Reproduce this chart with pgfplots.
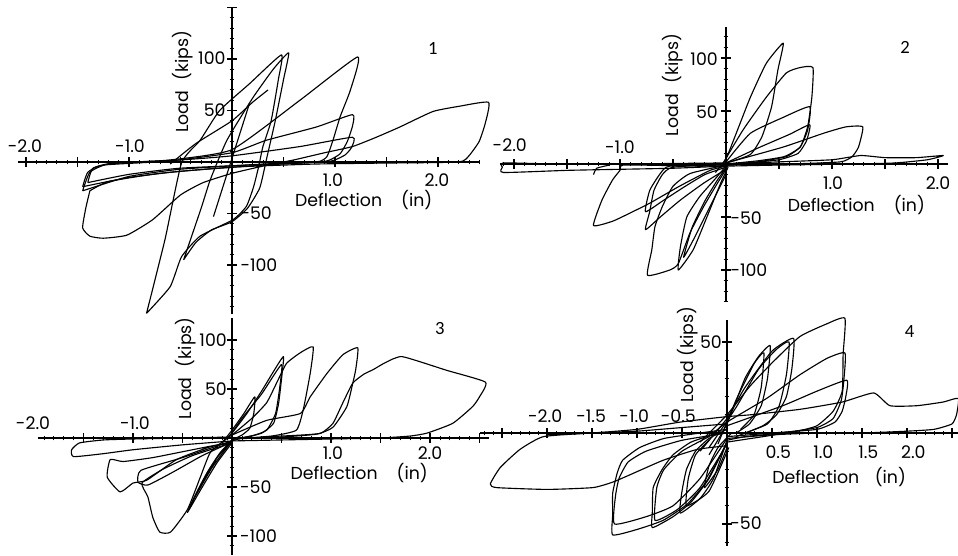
\documentclass[border=0pt]{standalone}
\usepackage{pgfplots}
\pgfplotsset{compat=1.18}
\usepackage{fontspec}
\setmainfont{Poppins}
\newfontfamily\numfont{Carlito}
\pgfplotsset{
  panel/.style={anchor=origin, axis lines=middle, axis line style={-, line width=1.1pt},
    clip=false, xticklabels={}, yticklabels={}, xtick distance=0.5,
    minor x tick num=4, minor y tick num=4, tick align=center,
    major tick length=7pt, minor tick length=3.5pt,
    tick style={black, line width=0.8pt}, minor tick style={black, line width=0.6pt}},
  hyst/.style={black, line width=0.85pt, line join=round, mark=none, smooth, tension=0.3},
}
\tikzset{lbl/.style={font=\fontsize{13}{15}\selectfont, inner sep=0pt},
  pnum/.style={font=\numfont\fontsize{14}{16}\selectfont, inner sep=0pt}}
\begin{document}
\begin{tikzpicture}
\useasboundingbox (0,0) rectangle (718.5pt,-417pt);
% ---------------- Panel 1 ----------------
\begin{axis}[panel, at={(174pt,-121.5pt)}, x=77.25pt, y=0.7725pt,
  xmin=-2.08, xmax=2.41, ymin=-148, ymax=150, ytick distance=50]
\addplot[hyst] coordinates {(-1.38,-28) (-1.42,-45) (-1.45,-64) (-1.38,-72) (-1.25,-74) (-1.02,-71) (-0.77,-56) (-0.5,-32) (-0.28,-20) (0,-11) (0.3,-4) (0.6,2) (0.9,9) (1.17,15) (1.4,24) (1.63,34) (1.95,49) (2.2,54) (2.49,58) (2.46,38) (2.4,20) (2.3,6) (2.2,0) (1.5,-1) (0.8,-2) (0,-5) (-0.7,-11) (-1.2,-19) (-1.38,-28)};
\addplot[hyst] coordinates {(-1.45,-28) (-1.38,-10) (-1.2,-2) (-0.6,2) (0,12) (0.66,60) (1.22,102) (1.15,70) (1.05,44) (0.98,21) (0.92,5) (0.82,0) (0.3,-2) (-0.5,-7) (-1.0,-14) (-1.45,-28)};
\addplot[hyst] coordinates {(-1.45,-24) (-1.4,-10) (-1.25,-3) (-0.6,1) (0,9) (0.33,21) (0.82,34) (1.17,46) (1.17,35) (1.12,20) (1.05,8) (0.95,2) (0.85,0) (0.3,-3) (-0.5,-9) (-1.0,-15) (-1.45,-24)};
\addplot[hyst] coordinates {(-1.4,-20) (-1.35,-6) (-1.15,-1) (-0.5,2) (0,6) (0.66,15) (1.17,24) (1.16,14) (1.1,7) (1.0,2) (0.9,0) (0.4,-2) (-0.5,-6) (-1.0,-12) (-1.4,-20)};
\addplot[hyst] coordinates {(-0.83,-147) (-0.65,-75) (-0.49,-1) (-0.31,21) (-0.12,50) (0.17,76) (0.48,104) (0.45,80) (0.38,40) (0.3,15) (0.26,-4) (0.21,-24) (0.14,-43) (0.01,-56) (-0.31,-72) (-0.49,-92) (-0.6,-121) (-0.83,-147)};
\addplot[hyst] coordinates {(-0.47,-95) (-0.3,-45) (-0.21,-17) (-0.05,21) (0.2,62) (0.4,90) (0.55,106) (0.5,80) (0.42,40) (0.34,5) (0.27,-25) (0.15,-45) (0,-58) (-0.2,-66) (-0.35,-78) (-0.47,-95)};
\addplot[hyst] coordinates {(-0.18,-53) (0.17,57)};
\addplot[hyst] coordinates {(-0.6,-2) (-0.35,18) (0,40) (0.2,58) (0.35,70)};
\node[lbl] at (axis cs:-2.01,15.5) {-2.0};
\node[lbl] at (axis cs:-0.99,15.5) {-1.0};
\node[lbl] at (axis cs:0.98,-17.5) {1.0};
\node[lbl] at (axis cs:1.99,-17.5) {2.0};
\node[lbl, anchor=east] at (axis cs:-0.06,101) {100};
\node[lbl, anchor=east] at (axis cs:-0.06,50.5) {50};
\node[lbl, anchor=west] at (axis cs:0.08,-49.5) {-50};
\node[lbl, anchor=west] at (axis cs:0.08,-100) {-100};
\node[lbl, rotate=90] at (axis cs:-0.48,78) {Load\hspace{0.6em}(kips)};
\node[lbl, anchor=west] at (axis cs:0.61,-37) {Deflection\hspace{1.1em}(in)};
\node[pnum] at (axis cs:1.95,110) {1};
\end{axis}
% ---------------- Panel 2 ----------------
\begin{axis}[panel, at={(544.5pt,-123pt)}, x=79.5pt, y=0.795pt,
  xmin=-2.13, xmax=2.09, ymin=-130, ymax=129, ytick distance=50]
\addplot[hyst] coordinates {(-0.1,-8) (0,5) (0.12,35) (0.23,63) (0.38,95) (0.54,114) (0.49,89) (0.43,54) (0.34,26) (0.23,9) (0,1) (-0.3,-3)};
\addplot[hyst] coordinates {(-0.05,-3) (0.16,32) (0.38,63) (0.57,86) (0.7,91) (0.82,91) (0.81,63) (0.77,35) (0.7,16) (0.55,7) (0.3,3) (0,0)};
\addplot[hyst] coordinates {(0,2) (0.23,29) (0.54,44) (0.79,54) (0.77,32) (0.7,16) (0.57,7) (0.3,2) (0,-1)};
\addplot[hyst] coordinates {(0,1) (0.3,15) (0.6,28) (0.79,37) (0.76,22) (0.68,10) (0.5,4) (0.2,1) (0,0)};
\addplot[hyst] coordinates {(0,1) (0.54,16) (0.92,29) (1.13,35) (1.29,35) (1.25,16) (1.19,7) (1.08,2) (0.6,0) (0,-1)};
\addplot[hyst] coordinates {(0,0) (0.5,2) (1.0,4) (1.27,8) (1.5,6) (1.8,6) (2.05,8) (1.9,4) (1.6,1) (1.2,0) (0.5,-1) (0,-2)};
\addplot[hyst] coordinates {(0,-2) (-0.5,-4) (-1.0,-5) (-1.5,-6) (-2.1,-8) (-2.11,-3) (-2.1,1) (-1.6,0) (-1.0,0) (-0.5,0.5) (0,1)};
\addplot[hyst] coordinates {(-1.25,-10) (-1.22,-4) (-1.1,-1)};
\addplot[hyst] coordinates {(0,-1) (-0.5,-1.5) (-0.97,-1) (-1.0,-6) (-1.07,-15) (-1.17,-34) (-1.25,-58) (-1.07,-54) (-0.9,-46) (-0.72,-37) (-0.44,-21) (-0.15,-6) (0,-2)};
\addplot[hyst] coordinates {(0,-2) (-0.53,-2) (-0.62,-9) (-0.72,-25) (-0.76,-45) (-0.6,-35) (-0.4,-22) (-0.2,-10) (0,-3)};
\addplot[hyst] coordinates {(0,0) (-0.5,-3) (-0.6,-10) (-0.68,-25) (-0.72,-45) (-0.76,-62) (-0.62,-50) (-0.43,-34) (-0.21,-18) (0,-5)};
\addplot[hyst] coordinates {(0,-1) (-0.34,-9) (-0.5,-21) (-0.6,-40) (-0.67,-59) (-0.7,-81) (-0.74,-105) (-0.53,-100) (-0.45,-94) (-0.34,-65) (-0.21,-40) (-0.08,-18) (0,-5)};
\addplot[hyst] coordinates {(0,-2) (-0.11,-15) (-0.25,-31) (-0.37,-50) (-0.43,-78) (-0.45,-100) (-0.31,-81) (-0.18,-50) (-0.05,-18) (0.02,-3)};
\addplot[hyst] coordinates {(0.02,-1) (-0.08,-15) (-0.2,-35) (-0.32,-60) (-0.4,-88) (-0.3,-70) (-0.15,-40) (0,-10)};
\node[lbl] at (axis cs:-2.04,18) {-2.0};
\node[lbl] at (axis cs:-1.0,16) {-1.0};
\node[lbl] at (axis cs:1.01,-18) {1.0};
\node[lbl] at (axis cs:2.0,-18) {2.0};
\node[lbl, anchor=east] at (axis cs:-0.075,99) {100};
\node[lbl, anchor=east] at (axis cs:-0.075,49) {50};
\node[lbl, anchor=west] at (axis cs:0.04,-51) {-50};
\node[lbl, anchor=west] at (axis cs:0.04,-100) {-100};
\node[lbl, rotate=90] at (axis cs:-0.5,74.5) {Load\hspace{0.6em}(kips)};
\node[lbl, anchor=west] at (axis cs:0.58,-39) {Deflection\hspace{1.1em}(in)};
\node[pnum] at (axis cs:1.69,110) {2};
\end{axis}
% ---------------- Panel 3 ----------------
\begin{axis}[panel, at={(174pt,-328.5pt)}, x=74.25pt, y=0.735pt,
  xmin=-1.96, xmax=2.6, ymin=-119, ymax=122, ytick distance=50]
\addplot[hyst] coordinates {(0.3,1) (0.7,3) (0.9,5) (1.02,15) (1.12,36) (1.22,56) (1.33,65) (1.43,70) (1.55,77) (1.72,83) (2.17,69) (2.56,57) (2.5,42) (2.43,32) (2.23,15) (1.97,5) (1.8,2) (1.5,0) (1.0,-1) (0.5,-2) (0,-3)};
\addplot[hyst] coordinates {(0,3) (0.35,18) (0.69,25) (0.79,42) (0.96,66) (1.12,85) (1.27,92) (1.25,70) (1.22,56) (1.16,32) (1.02,11) (0.86,4) (0.5,1) (0,-1)};
\addplot[hyst] coordinates {(0,3) (0.2,20) (0.35,36) (0.45,56) (0.55,76) (0.69,87) (0.82,93) (0.79,66) (0.72,29) (0.65,8) (0.4,2) (0,-1)};
\addplot[hyst] coordinates {(-0.1,-5) (0,5) (0.15,25) (0.3,48) (0.42,68) (0.52,83) (0.5,60) (0.47,35) (0.42,15) (0.3,5) (0.1,0) (0,-3)};
\addplot[hyst] coordinates {(-0.05,-2) (0.1,20) (0.3,45) (0.5,75) (0.48,50) (0.44,25) (0.35,8) (0.2,2) (0,-1)};
\addplot[hyst] coordinates {(-0.1,-5) (0,8) (0.12,25) (0.23,42) (0.22,25) (0.18,10) (0.1,3) (0,-2)};
\addplot[hyst] coordinates {(0,-3) (-0.5,-7) (-1.0,-12) (-1.3,-16) (-1.6,-19) (-1.62,-12) (-1.54,-5) (-1.3,-2) (-1.0,-1) (-0.5,0) (0,1)};
\addplot[hyst] coordinates {(0,-4) (-0.4,-12) (-0.8,-20) (-1.1,-24) (-1.23,-22) (-1.26,-40) (-1.13,-55) (-1.0,-46) (-0.86,-43) (-0.56,-22) (-0.22,-9) (0,-5)};
\addplot[hyst] coordinates {(0,-5) (-0.4,-18) (-0.7,-32) (-0.91,-46) (-0.85,-60) (-0.8,-81) (-0.73,-96) (-0.62,-96) (-0.45,-73) (-0.32,-40) (-0.22,-15) (-0.05,0)};
\addplot[hyst] coordinates {(0,-5) (-0.15,-25) (-0.3,-50) (-0.45,-76) (-0.38,-60) (-0.25,-35) (-0.12,-15) (0.02,0)};
\addplot[hyst] coordinates {(0,-3) (-0.2,-30) (-0.4,-65) (-0.43,-72) (-0.3,-45) (-0.15,-20) (0,-2)};
\addplot[hyst] coordinates {(0,-3) (-0.5,-20) (-0.92,-33) (-0.95,-45) (-0.85,-48) (-0.6,-35) (-0.3,-18) (0,-4)};
\node[lbl] at (axis cs:-2.01,15) {-2.0};
\node[lbl] at (axis cs:-0.98,15) {-1.0};
\node[lbl] at (axis cs:1.02,-15) {1.0};
\node[lbl] at (axis cs:2.0,-15) {2.0};
\node[lbl, anchor=east] at (axis cs:-0.05,100) {100};
\node[lbl, anchor=east] at (axis cs:-0.05,50) {50};
\node[lbl, anchor=west] at (axis cs:0.08,-50) {-50};
\node[lbl, anchor=west] at (axis cs:0.08,-100) {-100};
\node[lbl, rotate=90] at (axis cs:-0.47,71) {Load\hspace{0.6em}(kips)};
\node[lbl, anchor=west] at (axis cs:0.59,-36) {Deflection\hspace{1.1em}(in)};
\node[pnum] at (axis cs:2.1,112) {3};
\end{axis}
% ---------------- Panel 4 ----------------
\begin{axis}[panel, at={(545.25pt,-324.75pt)}, x=67.5pt, y=1.365pt,
  xmin=-2.74, xmax=2.57, ymin=-62, ymax=62, ytick distance=50]
\addplot[hyst] coordinates {(-0.3,-5) (0,10) (0.26,26) (0.51,39) (0.81,53) (1.11,60) (1.31,63) (1.29,43) (1.28,23) (1.18,12) (1.0,4) (0.78,1) (0.4,-2) (0,-5)};
\addplot[hyst] coordinates {(-0.2,-2) (0,6) (0.44,19) (0.81,32) (1.11,41) (1.31,44) (1.3,30) (1.27,18) (1.18,8) (1.0,3) (0.6,0) (0.2,-2) (0,-4)};
\addplot[hyst] coordinates {(0,4) (0.62,15) (1.0,23) (1.33,29) (1.32,20) (1.28,12) (1.2,6) (1.0,2) (0.5,0) (0,-2)};
\addplot[hyst] coordinates {(-0.3,-10) (0,8) (0.2,25) (0.5,45) (0.74,52) (0.72,35) (0.66,20) (0.55,10) (0.4,4) (0.1,-2)};
\addplot[hyst] coordinates {(-0.2,-8) (0.1,14) (0.35,35) (0.55,46) (0.69,50) (0.66,32) (0.58,15) (0.45,5) (0.2,0)};
\addplot[hyst] coordinates {(-0.2,-12) (0,5) (0.2,30) (0.35,42) (0.48,48) (0.45,30) (0.38,15) (0.25,5) (0.1,0)};
\addplot[hyst] coordinates {(-0.1,-6) (0.1,18) (0.3,38) (0.41,44) (0.38,25) (0.3,10) (0.15,2)};
\addplot[hyst] coordinates {(-2.0,-1) (-1.5,0) (-1.0,2) (-0.52,6) (0,9) (0.26,10) (0.81,13) (1.28,17) (1.63,22) (1.81,15) (2.11,15) (2.4,17) (2.57,19) (2.55,10) (2.5,5) (2.3,2) (2.0,1) (1.5,0) (1.0,0) (0.5,-1) (0,-3)};
\addplot[hyst] coordinates {(0,-7) (-0.33,-9) (-0.71,-15) (-1.08,-23) (-1.27,-27) (-1.49,-30) (-2.0,-31) (-2.56,-30) (-2.63,-28) (-2.52,-19) (-2.3,-9) (-2.04,-2) (-1.5,0) (-1.0,1) (-0.5,3) (0,5)};
\addplot[hyst] coordinates {(0,-5) (-0.22,-26) (-0.44,-39) (-0.71,-48) (-1.0,-53) (-1.27,-56) (-1.27,-45) (-1.27,-33) (-1.22,-22) (-1.16,-15) (-0.97,-8) (-0.7,-3) (-0.3,0) (0,2)};
\addplot[hyst] coordinates {(0,-3) (-0.3,-25) (-0.6,-40) (-0.9,-46) (-1.25,-50) (-1.24,-35) (-1.2,-25) (-1.1,-16) (-0.9,-10) (-0.5,-4) (0,0)};
\addplot[hyst] coordinates {(0,-5) (-0.2,-25) (-0.4,-38) (-0.6,-46) (-0.83,-52) (-0.83,-44) (-0.82,-30) (-0.72,-20) (-0.6,-12) (-0.4,-5) (-0.1,0)};
\addplot[hyst] coordinates {(0,-6) (-0.3,-30) (-0.55,-42) (-0.8,-48) (-0.78,-30) (-0.7,-20) (-0.5,-10) (-0.2,-2)};
\addplot[hyst] coordinates {(0,-4) (-0.15,-25) (-0.3,-36) (-0.52,-44) (-0.5,-32) (-0.45,-20) (-0.35,-10) (-0.2,-3) (0,2)};
\addplot[hyst] coordinates {(0.02,-8) (-0.2,-32) (-0.45,-40) (-0.43,-25) (-0.35,-12) (-0.2,-4)};
\addplot[hyst] coordinates {(0,-8) (-0.1,-20) (-0.25,-30) (-0.2,-18) (-0.1,-8) (0.05,0)};
\node[lbl] at (axis cs:-2.02,9) {-2.0};
\node[lbl] at (axis cs:-1.51,9) {-1.5};
\node[lbl] at (axis cs:-1.03,9) {-1.0};
\node[lbl] at (axis cs:-0.54,9) {-0.5};
\node[lbl] at (axis cs:0.57,-10.5) {0.5};
\node[lbl] at (axis cs:1.07,-10.5) {1.0};
\node[lbl] at (axis cs:1.57,-10.5) {1.5};
\node[lbl] at (axis cs:2.07,-10.5) {2.0};
\node[lbl, anchor=east] at (axis cs:-0.055,50) {50};
\node[lbl, anchor=west] at (axis cs:0.035,-49.5) {-50};
\node[lbl, rotate=90] at (axis cs:-0.44,43) {Load (kips)};
\node[lbl, anchor=west] at (axis cs:0.5,-24) {Deflection\hspace{0.9em}(in)};
\node[pnum] at (axis cs:2.03,56) {4};
\end{axis}
\end{tikzpicture}
\end{document}
